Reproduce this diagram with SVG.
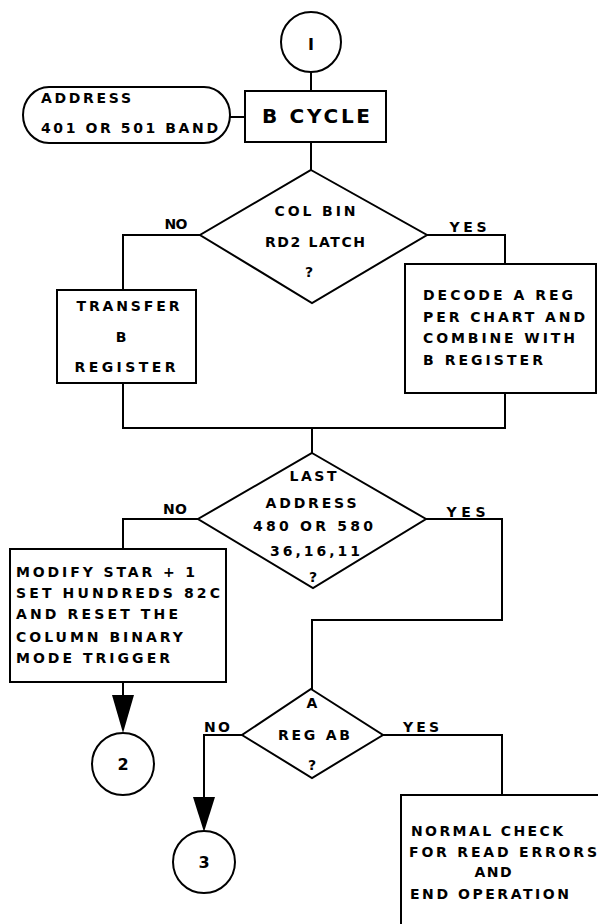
<svg xmlns="http://www.w3.org/2000/svg" width="598" height="924" viewBox="0 0 598 924">
<style>
.s{fill:none;stroke:#000;stroke-width:2}
.b{fill:#fff;stroke:#000;stroke-width:2}
text{font-family:"DejaVu Sans","Liberation Sans",Arial,sans-serif;font-weight:bold;font-size:14px;fill:#000}
.c{text-anchor:middle}
.big{font-size:20px}
.num{font-size:16px}
</style>
<rect width="598" height="924" fill="#fff"/>
<g id="connectors">
<path class="s" d="M311,72 V91"/>
<path class="s" d="M230,117 H245"/>
<path class="s" d="M311,142 V170"/>
<path class="s" d="M200,235 H123 V290"/>
<path class="s" d="M427,235 H505 V264"/>
<path class="s" d="M123,383 V428 H505 V393"/>
<path class="s" d="M312,428 V453"/>
<path class="s" d="M198,519 H123 V549"/>
<path class="s" d="M426,519 H502 V620 H312 V689"/>
<path class="s" d="M123,682 V695"/>
<path d="M112,695 L134,695 L123,733 Z" fill="#000"/>
<path class="s" d="M242,735 H204 V797"/>
<path d="M193,797 L215,797 L204,832 Z" fill="#000"/>
<path class="s" d="M383,735 H502 V795"/>
</g>
<g id="labels">
<text x="176" y="229" class="c" textLength="23">NO</text>
<text x="468" y="232" class="c" textLength="37">YES</text>
<text x="175" y="514" class="c" textLength="24">NO</text>
<text x="466" y="517" class="c" textLength="39">YES</text>
<text x="217" y="732" class="c" textLength="26">NO</text>
<text x="421" y="732" class="c" textLength="36">YES</text>
</g>
<g id="c1">
<circle class="b" cx="311" cy="42" r="30"/>
<text x="311" y="50" class="c num">I</text>
</g>
<g id="address">
<rect class="b" x="23" y="87" width="207" height="56" rx="26" ry="28"/>
<text x="41" y="103" textLength="90">ADDRESS</text>
<text x="41" y="133" textLength="177">401 OR 501 BAND</text>
</g>
<g id="bcycle">
<rect class="b" x="245" y="91" width="141" height="51"/>
<text x="316" y="123" class="c big" textLength="108">B CYCLE</text>
</g>
<g id="d1">
<path class="b" d="M311,170 L427,235 L312,303 L200,235 Z"/>
<text x="315" y="216" class="c" textLength="81">COL BIN</text>
<text x="315" y="247" class="c" textLength="100">RD2 LATCH</text>
<text x="309" y="277" class="c">?</text>
</g>
<g id="transfer">
<rect class="b" x="57" y="290" width="139" height="93"/>
<text x="128" y="311" class="c" textLength="103">TRANSFER</text>
<text x="121" y="342" class="c">B</text>
<text x="125" y="372" class="c" textLength="101">REGISTER</text>
</g>
<g id="decode">
<rect class="b" x="405" y="264" width="191" height="129"/>
<text x="423" y="300" textLength="150">DECODE A REG</text>
<text x="423" y="322" textLength="162">PER CHART AND</text>
<text x="423" y="343" textLength="152">COMBINE WITH</text>
<text x="423" y="365" textLength="120">B REGISTER</text>
</g>
<g id="d2">
<path class="b" d="M312,453 L426,519 L313,588 L198,519 Z"/>
<text x="313" y="481" class="c" textLength="47">LAST</text>
<text x="311" y="508" class="c" textLength="91">ADDRESS</text>
<text x="313" y="531" class="c" textLength="120">480 OR 580</text>
<text x="315" y="556" class="c" textLength="90">36,16,11</text>
<text x="313" y="582" class="c">?</text>
</g>
<g id="modify">
<rect class="b" x="10" y="549" width="216" height="133"/>
<text x="16" y="577" textLength="179">MODIFY STAR + 1</text>
<text x="16" y="598" textLength="204">SET HUNDREDS 82C</text>
<text x="16" y="619" textLength="162">AND RESET THE</text>
<text x="16" y="642" textLength="167">COLUMN BINARY</text>
<text x="16" y="663" textLength="154">MODE TRIGGER</text>
</g>
<g id="c2">
<circle class="b" cx="123" cy="764" r="31"/>
<text x="123" y="770" class="c num">2</text>
</g>
<g id="d3">
<path class="b" d="M311,689 L383,735 L312,778 L242,735 Z"/>
<text x="312" y="708" class="c">A</text>
<text x="314" y="740" class="c" textLength="72">REG AB</text>
<text x="312" y="770" class="c">?</text>
</g>
<g id="c3">
<circle class="b" cx="204" cy="862" r="31"/>
<text x="204" y="868" class="c num">3</text>
</g>
<g id="normal">
<rect class="b" x="401" y="795" width="220" height="150"/>
<text x="411" y="836" textLength="152">NORMAL CHECK</text>
<text x="409" y="857" textLength="188">FOR READ ERRORS</text>
<text x="493" y="877" class="c" textLength="37">AND</text>
<text x="410" y="899" textLength="159">END OPERATION</text>
</g>
</svg>
